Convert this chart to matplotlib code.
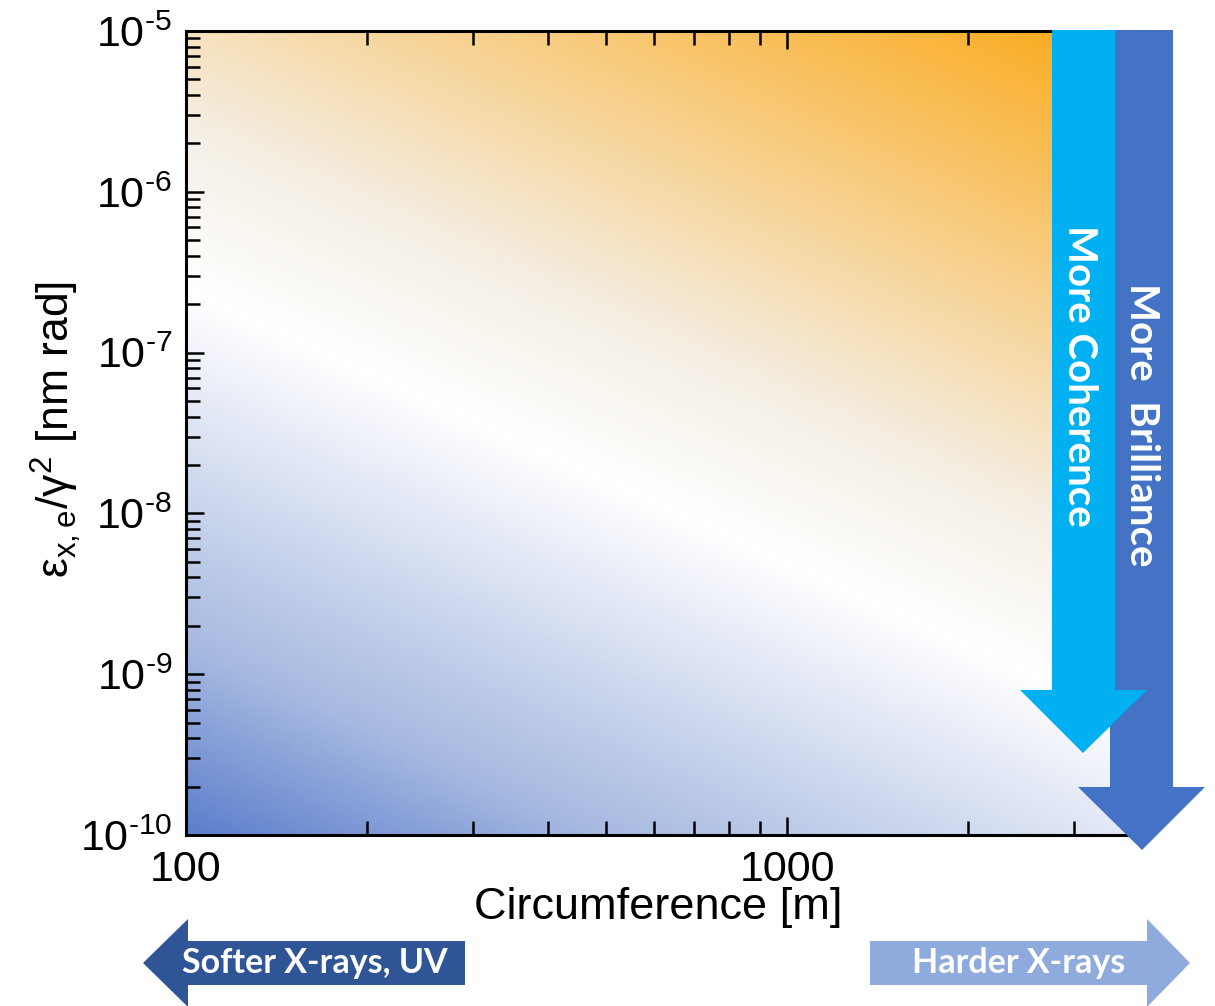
import numpy as np
import matplotlib.pyplot as plt
from matplotlib.colors import LinearSegmentedColormap, TwoSlopeNorm
from matplotlib.patches import Polygon

plt.rcParams['font.family'] = ['Liberation Sans', 'DejaVu Sans']
plt.rcParams['mathtext.default'] = 'regular'

# axis ranges and ticks
circ_lim = [100, 3720]
emit_lim = [1e-10, 1e-5]
x_ticks = [100, 1000]
x_tick_labels = ['100', '1000']
y_ticks = [1e-10, 1e-9, 1e-8, 1e-7, 1e-6, 1e-5]
y_tick_labels = ['$10^{\u2010' + e + '}$' for e in ['10', '9', '8', '7', '6', '5']]

# background shading: white band (log10 emittance at 100 m, slope in decades/decade)
white_at_100 = -6.61
white_slope = -1.70
shade_stops = [(0.0, '#5B7ECB'), (0.17, '#A5B8E0'), (0.5, '#FFFFFF'),
               (0.62, '#F4EEE4'), (1.0, '#FBA817')]

W, H = 1215, 1006
fig = plt.figure(figsize=(W / 100, H / 100), dpi=100)
ax = fig.add_axes([186 / W, 1 - 835 / H, (1130 - 186) / W, (835 - 31) / H])

C = np.logspace(np.log10(circ_lim[0]), np.log10(circ_lim[1]), 300)
E = np.logspace(np.log10(emit_lim[0]), np.log10(emit_lim[1]), 300)
CC, EE = np.meshgrid(C, E)
d = np.log10(EE) - (white_at_100 + white_slope * (np.log10(CC) - 2))
cmap = LinearSegmentedColormap.from_list('bw_or', shade_stops)
norm = TwoSlopeNorm(vmin=d.min(), vcenter=0, vmax=d.max())
ax.pcolormesh(CC, EE, d, cmap=cmap, norm=norm, shading='gouraud', rasterized=True)

ax.set_xscale('log')
ax.set_yscale('log')
ax.set_xlim(circ_lim)
ax.set_ylim(emit_lim)
ax.set_xticks(x_ticks)
ax.set_xticklabels(x_tick_labels)
ax.set_yticks(y_ticks)
ax.set_yticklabels(y_tick_labels)
ax.tick_params(which='both', direction='in', top=True, right=True, width=1.8,
               labelsize=31, color='black')
ax.tick_params(which='major', length=13)
ax.tick_params(which='minor', length=10)
ax.tick_params(axis='x', pad=11)
ax.tick_params(axis='y', pad=10)
for s in ax.spines.values():
    s.set_linewidth(2.2)

ax.set_xlabel('Circumference [m]', fontsize=32.5, va='center')
ax.xaxis.set_label_coords(0.5, -0.09)
ax.set_ylabel(r'ε$_{x,e}$/γ$^{2}$ [nm rad]', fontsize=32, va='center')
ax.yaxis.set_label_coords(-0.138, 0.504)


def px(points):
    return [(x / W, 1 - y / H) for x, y in points]


def add_arrow(points, color):
    fig.patches.append(Polygon(px(points), closed=True, facecolor=color,
                               edgecolor='none', transform=fig.transFigure,
                               zorder=5))


# vertical arrows
add_arrow([(1110, 30), (1173, 30), (1173, 787), (1205, 787), (1142, 850),
           (1078, 787), (1110, 787)], '#4472C4')
add_arrow([(1052, 30), (1115, 30), (1115, 690), (1147, 690), (1083, 753),
           (1020, 690), (1052, 690)], '#00B0F0')
fig.text(1080 / W, 1 - 376 / H, 'More Coherence', rotation=-90, color='white',
         fontsize=29, fontweight='bold', family='Lato', ha='center', va='center',
         zorder=6)
fig.text(1141 / W, 1 - 425 / H, 'More  Brilliance', rotation=-90, color='white',
         fontsize=29, fontweight='bold', family='Lato', ha='center', va='center',
         zorder=6)

# horizontal arrows
add_arrow([(465, 941), (465, 985), (188, 985), (188, 1007), (143, 963),
           (188, 919), (188, 941)], '#2F5597')
add_arrow([(870, 941), (1147, 941), (1147, 919), (1190, 963), (1147, 1007),
           (1147, 985), (870, 985)], '#8FAADC')
fig.text(315 / W, 1 - 963 / H, 'Softer X-rays, UV', color='white', fontsize=24.5,
         fontweight='bold', family='Lato', ha='center', va='center', zorder=6)
fig.text(1019 / W, 1 - 963 / H, 'Harder X-rays', color='white', fontsize=24.5,
         fontweight='bold', family='Lato', ha='center', va='center', zorder=6)

fig.savefig('out.png', dpi=100)
